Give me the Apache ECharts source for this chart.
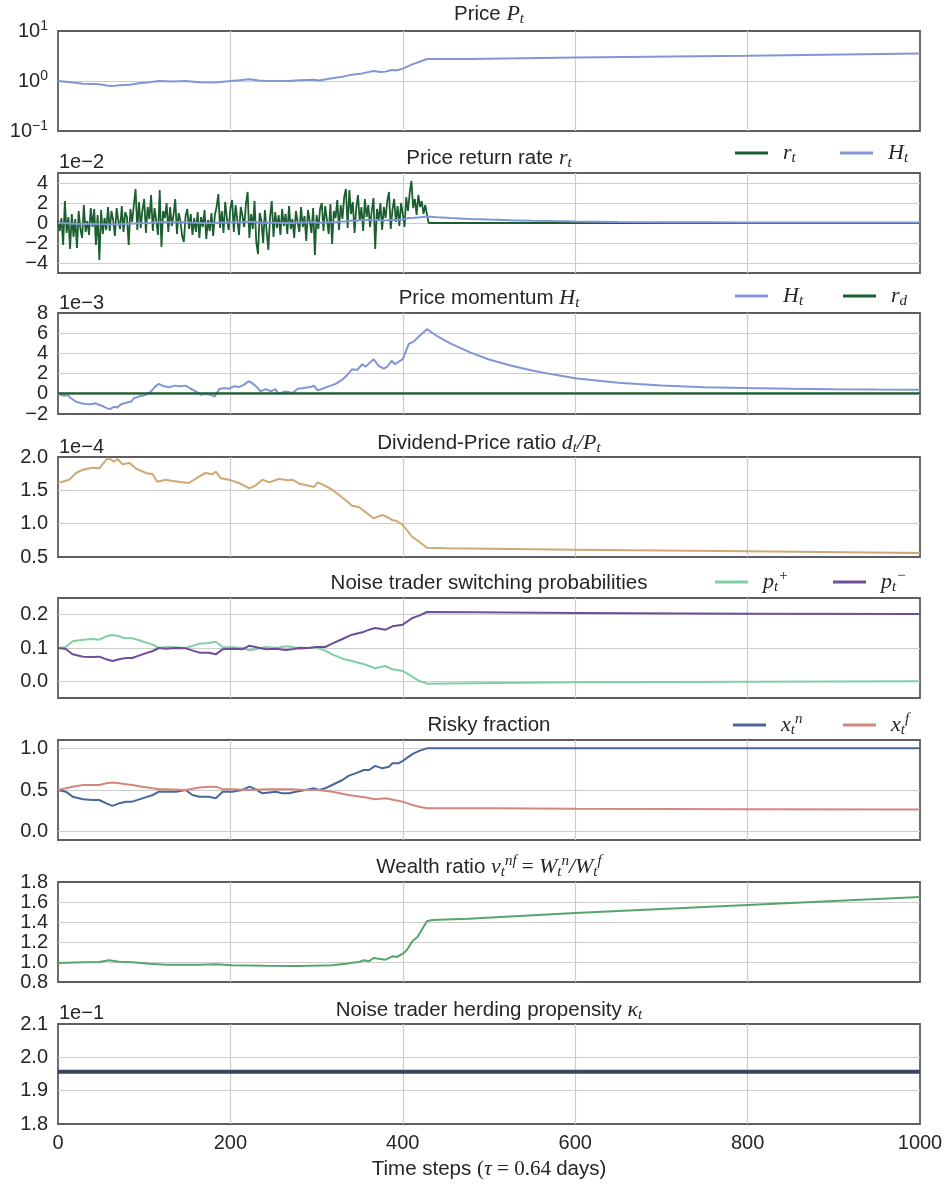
<!DOCTYPE html>
<html><head><meta charset="utf-8">
<script src="https://cdn.jsdelivr.net/npm/echarts@6/dist/echarts.min.js"></script>
<style>html,body{margin:0;padding:0;background:#fff}#c{width:946px;height:1188px}</style>
</head><body><div id="c"></div>
<script>
// ---------------- data ----------------
const xTickLabels = ['0','200','400','600','800','1000'];

// Price P_t  [t, P]
const price = [[0,1.0],[9,0.97],[17,0.93],[29,0.88],[40,0.87],[48,0.86],[56,0.81],[63,0.79],[71,0.82],[83,0.84],[94,0.90],[106,0.94],[117,1.0],[133,0.98],[148,1.0],[164,0.94],[183,0.93],[200,1.0],[210,1.03],[222,1.08],[233,1.02],[241,1.0],[256,1.0],[268,1.0],[280,1.03],[297,1.06],[303,1.02],[318,1.13],[330,1.22],[341,1.34],[353,1.42],[366,1.59],[374,1.52],[380,1.54],[387,1.66],[393,1.64],[400,1.77],[407,2.0],[413,2.23],[418,2.37],[428,2.76],[478,2.77],[600,2.96],[800,3.2],[1000,3.53]];

// Price return rate r_t (units 1e-2), every 2 time steps from t=0 to t=430
const returnRate = [
 0.3,-0.8,0.5,-2.2,2.2,-1.0,0.6,-2.6,0.9,-1.4,
 0.4,-2.5,1.2,-0.6,-1.5,1.8,-0.9,0.2,-1.2,1.5,
 -0.4,1.4,-2.2,0.8,-3.7,1.3,-1.1,0.5,-0.7,1.6,
 -0.8,1.2,0.3,-1.3,1.5,0.2,-0.6,1.7,-0.9,1.1,
 0.6,-2.2,1.4,0.1,1.8,3.4,-0.7,2.1,-0.5,1.3,
 2.4,-1.0,1.6,0.4,2.8,-0.8,1.5,0.2,-1.2,3.3,
 -2.4,1.2,0.5,2.0,-0.9,1.6,-0.3,0.8,2.4,-1.1,
 1.0,0.2,-1.3,-1.9,0.7,1.4,-0.6,0.9,-1.2,0.5,
 -0.9,1.1,-1.5,0.6,-0.4,1.3,-1.6,0.3,-0.8,1.0,
 -1.3,0.8,1.6,2.9,-0.5,1.2,-1.0,2.1,0.4,-0.7,
 1.5,2.3,-0.9,1.8,0.3,-1.2,1.6,0.7,-0.4,1.9,
 3.1,-1.5,0.9,-0.6,2.2,-1.9,-3.1,1.0,0.2,-2.0,
 1.3,-0.8,-2.7,0.6,2.2,-1.4,1.1,-0.5,0.8,-1.2,
 1.4,-0.3,0.9,-1.1,1.7,-0.6,0.4,-1.5,1.2,0.1,
 -0.9,1.6,-0.4,0.7,-1.8,1.3,0.2,-1.0,1.5,-3.2,
 0.8,-0.6,1.4,2.0,-0.8,1.7,0.3,-1.1,1.9,-2.1,
 1.2,0.5,2.3,-0.7,1.8,0.4,2.6,3.4,-0.5,3.3,
 0.9,2.1,-1.0,1.5,2.8,0.2,1.6,-0.8,2.4,0.6,
 1.8,-0.4,1.2,2.5,-2.6,1.4,0.3,2.0,-0.7,1.6,
 0.5,2.2,3.1,-0.6,1.3,2.4,0.1,1.7,-0.3,2.0,
 0.9,-0.4,2.6,1.2,3.0,4.2,1.5,2.4,0.8,2.8,
 1.6,2.2,0.9,1.8,1.9,0.0
];
const returnTail = [[1000,0.0]];

// Price momentum H_t (units 1e-3) [t, H]
const momentum = [[0,0.07],[3,-0.1],[7,-0.2],[11,-0.13],[15,-0.44],[21,-0.77],[27,-0.94],[32,-1.0],[38,-1.04],[44,-0.94],[48,-1.11],[52,-1.21],[57,-1.45],[61,-1.5],[65,-1.28],[69,-1.35],[73,-1.04],[79,-0.88],[85,-0.77],[88,-0.44],[94,-0.27],[102,-0.1],[108,0.24],[113,0.74],[117,0.98],[123,0.74],[129,0.64],[135,0.81],[142,0.74],[148,0.81],[154,0.5],[160,0.24],[166,-0.1],[171,-0.03],[177,-0.1],[182,-0.27],[187,0.47],[193,0.57],[198,0.5],[204,0.74],[210,0.67],[216,0.91],[221,1.25],[225,1.08],[231,0.64],[235,0.24],[241,0.47],[247,0.24],[252,0.47],[256,0.0],[264,0.24],[272,0.07],[278,0.5],[285,0.57],[293,0.67],[297,0.81],[301,0.34],[306,0.47],[314,0.74],[322,0.98],[330,1.41],[335,1.82],[341,2.42],[347,2.36],[353,2.93],[357,2.69],[366,3.43],[372,2.76],[378,2.49],[382,2.69],[387,3.27],[391,2.93],[400,3.43],[407,4.95],[413,5.19],[418,5.62],[428,6.4],[440,5.7],[455,5.0],[478,4.1],[500,3.4],[525,2.8],[550,2.3],[575,1.9],[600,1.55],[650,1.1],[700,0.82],[750,0.66],[800,0.57],[850,0.5],[900,0.46],[950,0.43],[1000,0.41]];
const dividendGrowth = [[0,0.05],[1000,0.05]];

// Dividend-price ratio (units 1e-4)
const divPrice = [[0,1.61],[5,1.63],[13,1.66],[21,1.76],[29,1.81],[40,1.84],[48,1.83],[56,1.96],[59,1.98],[65,1.93],[69,1.97],[75,1.89],[83,1.91],[90,1.83],[102,1.76],[110,1.74],[115,1.63],[125,1.66],[133,1.64],[144,1.62],[152,1.61],[164,1.71],[171,1.76],[179,1.74],[183,1.78],[189,1.68],[198,1.66],[210,1.61],[222,1.53],[229,1.57],[237,1.66],[245,1.62],[256,1.67],[268,1.65],[272,1.66],[280,1.60],[291,1.57],[297,1.55],[301,1.62],[308,1.58],[318,1.51],[326,1.43],[336,1.33],[341,1.27],[349,1.25],[357,1.17],[366,1.08],[376,1.13],[382,1.10],[388,1.05],[393,1.04],[400,0.98],[411,0.80],[419,0.73],[428,0.64],[450,0.63],[600,0.61],[800,0.585],[1000,0.56]];

// Switching probabilities
const pPlus = [[0,0.1],[9,0.103],[17,0.12],[29,0.125],[40,0.127],[48,0.125],[56,0.135],[63,0.139],[71,0.135],[77,0.13],[86,0.129],[98,0.12],[110,0.11],[117,0.1],[125,0.103],[137,0.102],[148,0.1],[164,0.113],[175,0.115],[183,0.119],[191,0.103],[202,0.102],[214,0.1],[222,0.093],[229,0.096],[241,0.103],[253,0.1],[264,0.105],[272,0.103],[280,0.097],[291,0.1],[299,0.101],[310,0.092],[318,0.081],[330,0.068],[341,0.061],[353,0.053],[361,0.046],[368,0.039],[380,0.046],[388,0.036],[400,0.031],[411,0.014],[419,0.001],[428,-0.007],[480,-0.006],[600,-0.003],[800,-0.001],[1000,0.0]];
const pMinus = [[0,0.1],[9,0.097],[17,0.081],[29,0.074],[40,0.073],[48,0.074],[56,0.066],[63,0.061],[71,0.066],[79,0.07],[86,0.07],[98,0.081],[110,0.091],[117,0.1],[125,0.098],[137,0.1],[148,0.099],[164,0.086],[175,0.086],[183,0.081],[191,0.096],[202,0.098],[214,0.096],[222,0.107],[229,0.103],[241,0.096],[253,0.098],[264,0.094],[272,0.096],[280,0.101],[291,0.1],[299,0.103],[310,0.103],[318,0.113],[330,0.127],[341,0.14],[353,0.147],[361,0.155],[368,0.16],[380,0.155],[388,0.165],[400,0.17],[411,0.19],[419,0.197],[428,0.208],[480,0.207],[600,0.205],[800,0.203],[1000,0.202]];

// Risky fraction
const xNoise = [[0,0.5],[9,0.48],[17,0.42],[29,0.39],[40,0.38],[48,0.38],[56,0.34],[63,0.31],[71,0.34],[79,0.36],[86,0.36],[98,0.4],[110,0.44],[117,0.48],[125,0.48],[137,0.48],[148,0.5],[156,0.44],[164,0.42],[175,0.42],[183,0.4],[191,0.48],[202,0.48],[214,0.5],[222,0.54],[229,0.51],[237,0.46],[245,0.47],[253,0.48],[260,0.46],[268,0.46],[276,0.48],[287,0.5],[297,0.52],[303,0.5],[310,0.52],[318,0.56],[330,0.62],[337,0.67],[345,0.7],[355,0.74],[361,0.74],[368,0.79],[376,0.76],[384,0.78],[388,0.82],[395,0.82],[400,0.85],[411,0.93],[419,0.97],[428,1.0],[1000,1.0]];
const xFund = [[0,0.5],[9,0.52],[17,0.54],[29,0.56],[40,0.56],[48,0.56],[56,0.58],[63,0.59],[71,0.58],[79,0.57],[86,0.56],[98,0.54],[110,0.52],[117,0.51],[125,0.51],[148,0.5],[164,0.53],[179,0.54],[183,0.54],[191,0.51],[202,0.51],[222,0.5],[241,0.51],[260,0.51],[272,0.51],[287,0.5],[303,0.5],[318,0.48],[337,0.44],[357,0.41],[368,0.39],[380,0.4],[400,0.36],[411,0.32],[419,0.3],[428,0.28],[500,0.28],[600,0.275],[800,0.27],[1000,0.265]];

// Wealth ratio
const wealth = [[0,0.99],[29,0.997],[48,1.0],[59,1.017],[71,1.003],[86,0.997],[106,0.983],[125,0.973],[164,0.973],[183,0.977],[202,0.967],[241,0.963],[280,0.96],[318,0.967],[334,0.983],[341,0.993],[349,1.0],[355,1.017],[361,1.007],[366,1.04],[372,1.033],[380,1.023],[388,1.057],[393,1.05],[400,1.083],[405,1.123],[411,1.207],[417,1.25],[422,1.323],[428,1.407],[434,1.42],[476,1.433],[600,1.49],[800,1.57],[1000,1.65]];

// Herding propensity (units 1e-1)
const herding = [[0,1.957],[1000,1.957]];

// ---------------- styling / layout ----------------
const TXT = '#262626';
const SANS = 'Liberation Sans, Arial, sans-serif';
const SERIF = 'Liberation Serif, Times New Roman, serif';
function tok(o){ return Object.assign({color:TXT, fill:TXT}, o); }
const RICH = {
  n: tok({fontFamily:SANS, fontSize:20.5, lineHeight:26}),
  m: tok({fontFamily:SERIF, fontStyle:'italic', fontSize:22, lineHeight:26}),
  r: tok({fontFamily:SERIF, fontSize:21, lineHeight:26}),
  s: tok({fontFamily:SERIF, fontStyle:'italic', fontSize:15, lineHeight:26, verticalAlign:'bottom'}),
  p: tok({fontFamily:SERIF, fontStyle:'italic', fontSize:15, lineHeight:26, verticalAlign:'top'}),
  g: tok({fontFamily:SANS, fontSize:10, width:10}),
  b: tok({fontFamily:SANS, fontSize:20, lineHeight:24}),
  e: tok({fontFamily:SANS, fontSize:14, lineHeight:24, verticalAlign:'top'})
};

const gridTops = [31,173,313,457,598,740,882,1024];
const gridHeights = [100,100,101,100,100,100,100,100];

const titles = [
  {y:14,   text:'{n|Price }{m|P}{s|t}'},
  {y:158,  text:'{n|Price return rate }{m|r}{s|t}'},
  {y:298,  text:'{n|Price momentum }{m|H}{s|t}'},
  {y:443,  text:'{n|Dividend-Price ratio }{m|d}{s|t}{m|/P}{s|t}'},
  {y:583,  text:'{n|Noise trader switching probabilities}'},
  {y:725,  text:'{n|Risky fraction}'},
  {y:867,  text:'{n|Wealth ratio }{m|ν}{s|t}{p|nf}{r| = }{m|W}{s|t}{p|n}{m|/W}{s|t}{p|f}'},
  {y:1010, text:'{n|Noise trader herding propensity }{m|κ}{s|t}'}
];
const offsets = [
  {y:162, text:'1e−2'}, {y:303, text:'1e−3'}, {y:447, text:'1e−4'}, {y:1013, text:'1e−1'}
];

const legendItems = [
  {name:'r_t', left:735, top:142}, {name:'H_t', left:840, top:142},
  {name:'H_t', left:735, top:285}, {name:'r_d', left:843, top:285},
  {name:'p+',  left:715, top:569}, {name:'p-',  left:833, top:569},
  {name:'xn',  left:733, top:712}, {name:'xf',  left:843, top:712}
];
const legendText = {
  'r_t':'{g| }{m|r}{s|t}', 'H_t':'{g| }{m|H}{s|t}', 'r_d':'{g| }{m|r}{s|d}',
  'p+':'{g| }{m|p}{s|t}{p|+}', 'p-':'{g| }{m|p}{s|t}{p|−}',
  'xn':'{g| }{m|x}{s|t}{p|n}', 'xf':'{g| }{m|x}{s|t}{p|f}'
};

const C = {
  blue:'#8296d6', dkgreen:'#1b5e2f', tan:'#cfa876', mint:'#80cfa4', purple:'#6c4f9a',
  navy:'#4a679c', salmon:'#d4877c', green:'#56a66c', slate:'#3a4759'
};

const minus = v => String(v).replace('-', '−');
const fix1 = v => v.toFixed(1);
const axisLabelBase = {color:TXT, fontFamily:SANS, fontSize:20, margin:10};
const gridLine = {color:'#cccccc', width:1.2};

const yAxes = [
  {type:'log', logBase:10, min:0.1, max:10,
   axisLabel:Object.assign({}, axisLabelBase, {rich:RICH, formatter:v => '{b|10}{e|' + minus(Math.round(Math.log10(v))) + '}'}),
   splitLine:{show:true, showMinLine:false, showMaxLine:false, lineStyle:gridLine}, minorTick:{show:false}},
  {type:'value', min:-5, max:5, axisTick:{show:false, customValues:[-4,-2,0,2,4]},
   axisLabel:Object.assign({}, axisLabelBase, {customValues:[-4,-2,0,2,4], formatter:minus}),
   splitLine:{show:true, lineStyle:gridLine}},
  {type:'value', min:-2, max:8, interval:2,
   axisLabel:Object.assign({}, axisLabelBase, {formatter:minus}),
   splitLine:{show:true, showMinLine:false, showMaxLine:false, lineStyle:gridLine}},
  {type:'value', min:0.5, max:2.0, interval:0.5,
   axisLabel:Object.assign({}, axisLabelBase, {formatter:fix1}),
   splitLine:{show:true, showMinLine:false, showMaxLine:false, lineStyle:gridLine}},
  {type:'value', min:-0.05, max:0.25, axisTick:{show:false, customValues:[0,0.1,0.2]},
   axisLabel:Object.assign({}, axisLabelBase, {customValues:[0,0.1,0.2], formatter:fix1}),
   splitLine:{show:true, lineStyle:gridLine}},
  {type:'value', min:-0.1, max:1.1, axisTick:{show:false, customValues:[0,0.5,1.0]},
   axisLabel:Object.assign({}, axisLabelBase, {customValues:[0,0.5,1.0], formatter:fix1}),
   splitLine:{show:true, lineStyle:gridLine}},
  {type:'value', min:0.8, max:1.8, interval:0.2,
   axisLabel:Object.assign({}, axisLabelBase, {formatter:fix1}),
   splitLine:{show:true, showMinLine:false, showMaxLine:false, lineStyle:gridLine}},
  {type:'value', min:1.8, max:2.1, interval:0.1,
   axisLabel:Object.assign({}, axisLabelBase, {formatter:fix1}),
   splitLine:{show:true, showMinLine:false, showMaxLine:false, lineStyle:gridLine}}
].map((a, i) => Object.assign({gridIndex:i, axisLine:{show:false}}, a, {
   axisTick: Object.assign({show:false}, a.axisTick || {})
}));

const xAxes = gridTops.map((t, i) => ({
  gridIndex:i, type:'value', min:0, max:1000, interval:200,
  axisLine:{show:false}, axisTick:{show:false},
  axisLabel: Object.assign({}, axisLabelBase, {show: i === 7, margin:9,
     formatter: v => xTickLabels[Math.round(v / 200)]}),
  splitLine:{show:true, showMinLine:false, showMaxLine:false, lineStyle:gridLine},
  name: i === 7 ? '{n|Time steps }{r|(}{m|τ}{r| = 0.64 }{n|days)}' : '',
  nameLocation:'middle', nameGap:32, nameTextStyle:{rich:RICH}
}));

function line(idx, name, data, color, width) {
  return {type:'line', name, xAxisIndex:idx, yAxisIndex:idx, data, color,
    showSymbol:false, symbol:'none', lineStyle:{color, width}, clip:true,
    emphasis:{disabled:true}, silent:true};
}

const returnData = returnRate.map((v, i) => [2 * i, v]).concat(returnTail);
const momentumIn1e2 = momentum.map(d => [d[0], d[1] / 10]);

const series = [
  line(0, 'P', price, C.blue, 2),
  line(1, 'r_t', returnData, C.dkgreen, 1.8),
  line(1, 'H_t', momentumIn1e2, C.blue, 2),
  line(2, 'H_t', momentum, C.blue, 2),
  line(2, 'r_d', dividendGrowth, C.dkgreen, 2.2),
  line(3, 'dP', divPrice, C.tan, 2),
  line(4, 'p+', pPlus, C.mint, 2),
  line(4, 'p-', pMinus, C.purple, 2),
  line(5, 'xn', xNoise, C.navy, 2),
  line(5, 'xf', xFund, C.salmon, 2),
  line(6, 'W', wealth, C.green, 2),
  line(7, 'kappa', herding, C.slate, 4)
];

const graphics = titles.map(t => ({type:'text', x:489, y:t.y, silent:true,
   style:{text:t.text, rich:RICH, align:'center', verticalAlign:'middle', fill:TXT}}))
 .concat(offsets.map(o => ({type:'text', x:59, y:o.y, silent:true,
   style:{text:o.text, fontFamily:SANS, fontSize:20, fill:TXT, align:'left', verticalAlign:'middle'}})));

const option = {
  animation:false,
  backgroundColor:'#ffffff',
  grid: gridTops.map((t, i) => ({left:58, width:862, top:t, height:gridHeights[i], show:true,
     borderColor:'#5e5e5e', borderWidth:1.8, backgroundColor:'transparent', containLabel:false})),
  xAxis: xAxes,
  yAxis: yAxes,
  legend: legendItems.map(l => ({data:[l.name], left:l.left, top:l.top, padding:0,
     icon:'rect', itemWidth:33, itemHeight:3, selectedMode:false,
     formatter: n => legendText[n], textStyle:{rich:RICH}})),
  graphic: graphics,
  series
};

const chart = echarts.init(document.getElementById('c'), null, {renderer:'canvas'});
chart.setOption(option);
</script>
</body></html>
